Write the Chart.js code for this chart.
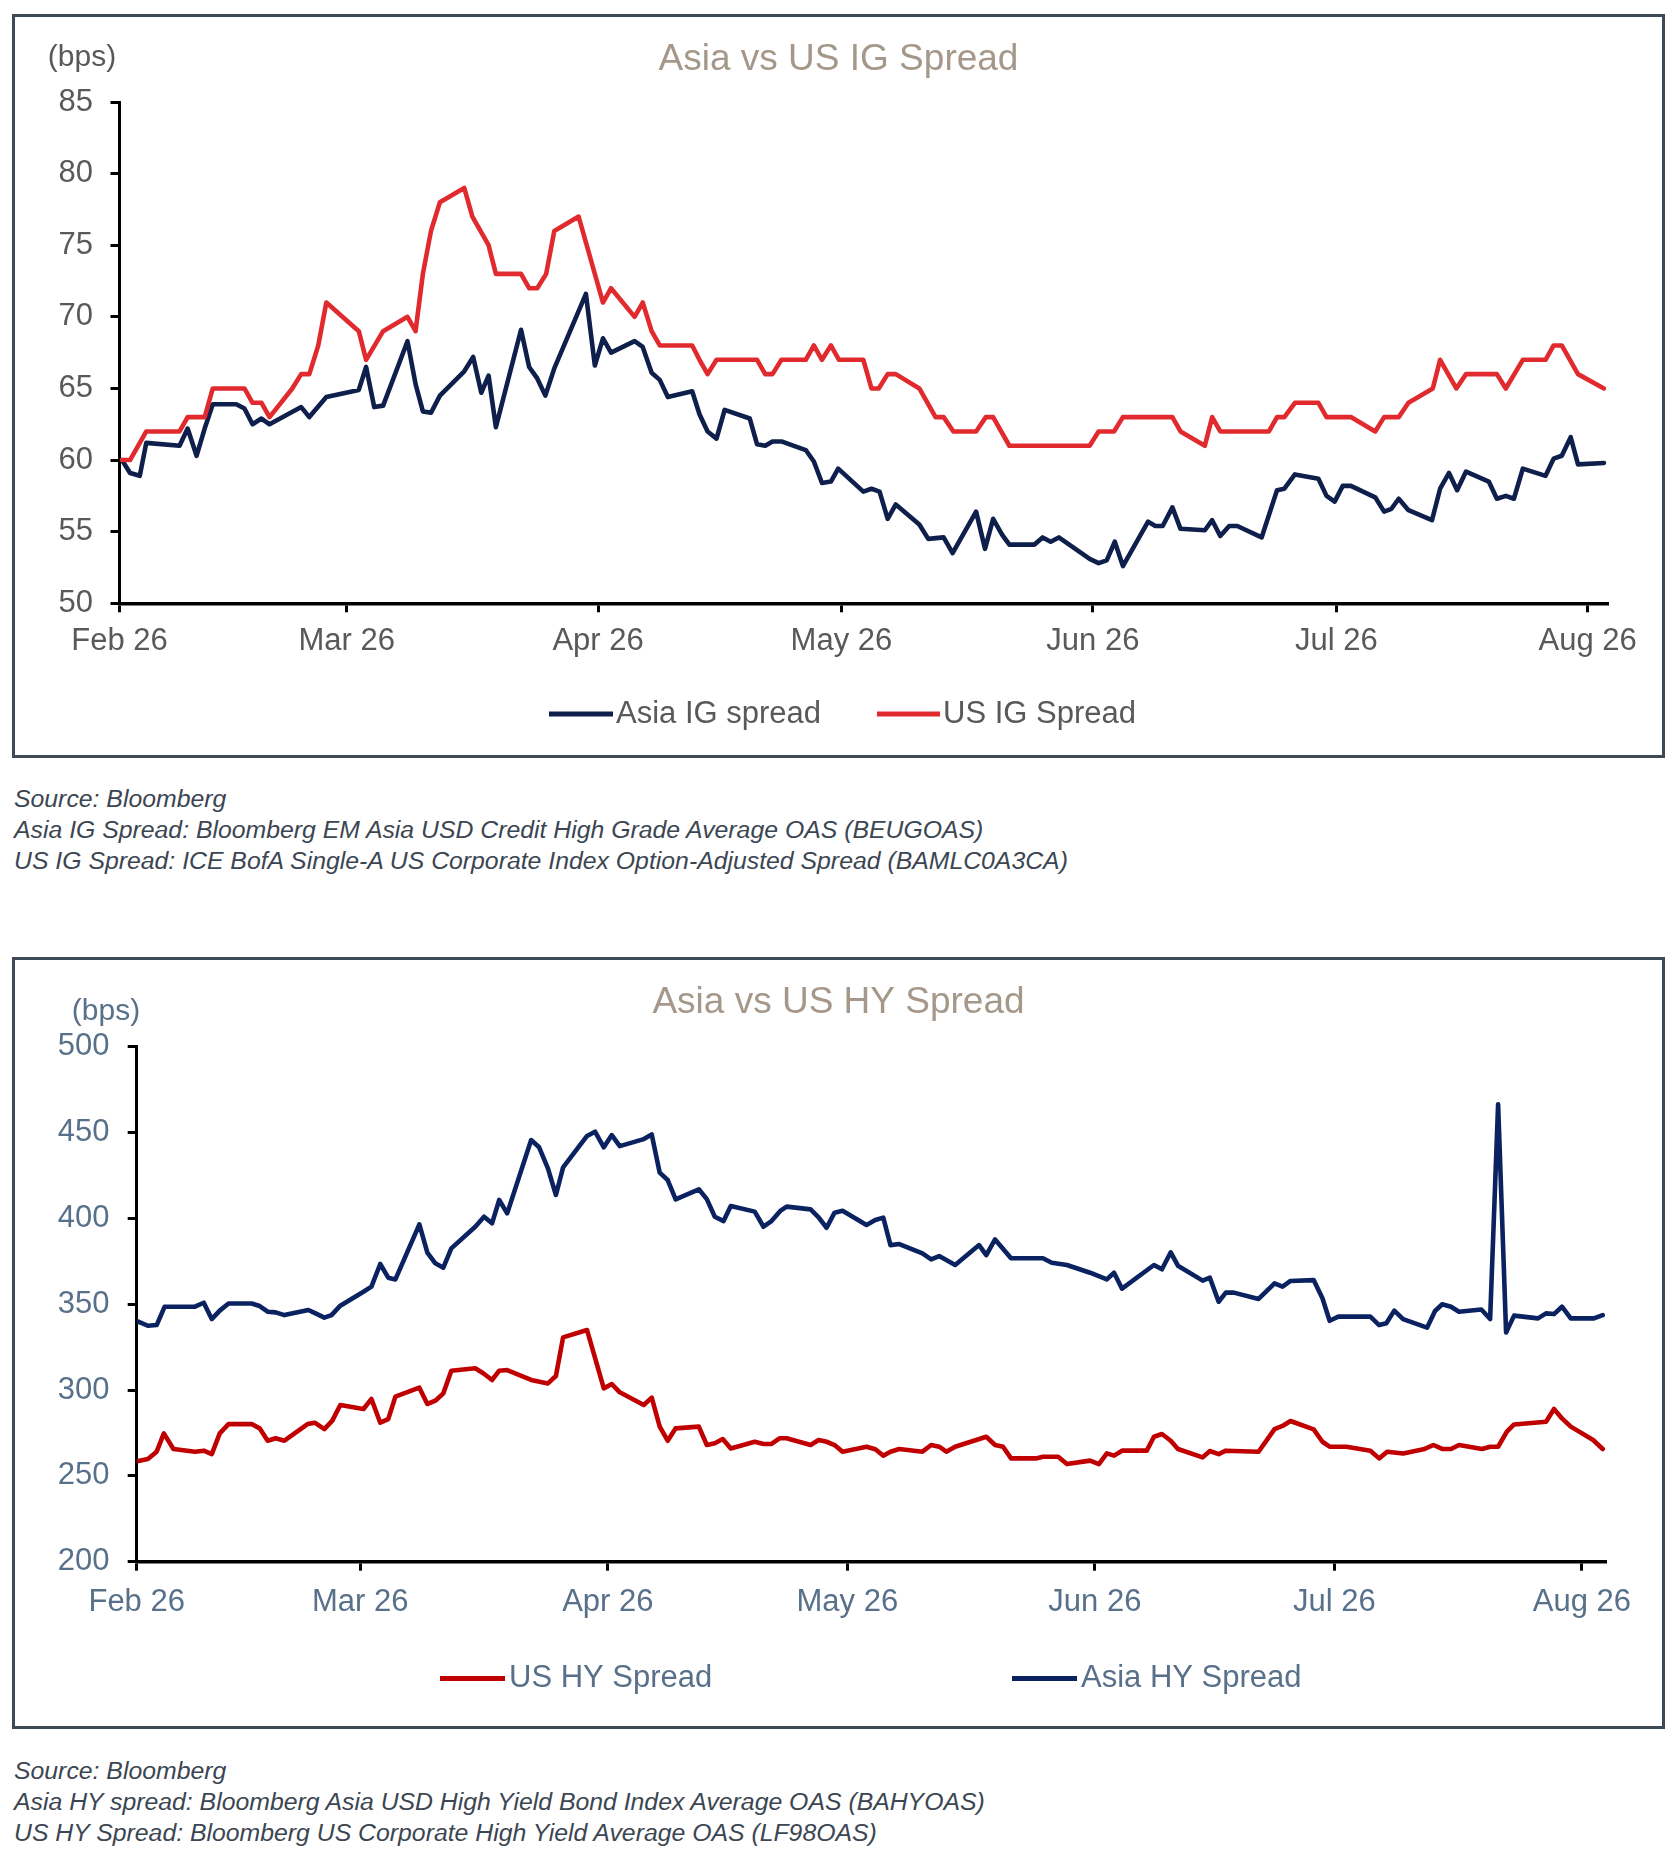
<!DOCTYPE html>
<html>
<head>
<meta charset="utf-8">
<title>Asia vs US Spreads</title>
<script src="https://cdn.jsdelivr.net/npm/chart.js@4.4.1/dist/chart.umd.min.js"></script>
<style>
  body { margin: 0; background: #fff; font-family: "Liberation Sans", Arial, sans-serif; }
  .frame { position: absolute; left: 12px; width: 1647px; border: 3px solid #3e4b56; }
  #frame1 { top: 14px; height: 738px; }
  #frame2 { top: 957px; height: 766px; }
  .src { position: absolute; left: 14px; font-style: italic; font-size: 24.8px; line-height: 31px; color: #3b4652; white-space: nowrap; }
  #src1 { top: 783px; }
  #src2 { top: 1755px; }
</style>
</head>
<body>
<div class="frame" id="frame1"><canvas id="igChart"></canvas></div>
<div class="src" id="src1">Source: Bloomberg<br>Asia IG Spread: Bloomberg EM Asia USD Credit High Grade Average OAS (BEUGOAS)<br>US IG Spread: ICE BofA Single-A US Corporate Index Option-Adjusted Spread (BAMLC0A3CA)</div>
<div class="frame" id="frame2"><canvas id="hyChart"></canvas></div>
<div class="src" id="src2">Source: Bloomberg<br>Asia HY spread: Bloomberg Asia USD High Yield Bond Index Average OAS (BAHYOAS)<br>US HY Spread: Bloomberg US Corporate High Yield Average OAS (LF98OAS)</div>
<script>
// x values are days counted from 1 Feb
const monthDays = [0, 28, 59, 89, 120, 150, 181];
const monthLabels = ["Feb 26", "Mar 26", "Apr 26", "May 26", "Jun 26", "Jul 26", "Aug 26"];

const igAsiaDays = [0.3,1.3,2.5,3.3,7.4,8.4,9.5,10.5,11.5,14.4,15.4,16.4,17.5,18.5,22.4,23.4,25.5,29.5,30.4,31.4,32.5,35.5,36.5,37.4,38.4,39.5,42.5,43.6,44.6,45.5,46.4,49.5,50.5,51.5,52.5,53.6,57.5,58.6,59.6,60.6,63.5,64.5,65.6,66.6,67.6,70.6,71.5,72.5,73.6,74.6,77.7,78.6,79.6,80.5,81.6,84.6,85.6,86.6,87.7,88.6,91.7,92.7,93.7,94.7,95.7,98.6,99.7,101.6,102.7,105.6,106.7,107.7,108.8,109.7,112.8,113.8,114.8,115.8,119.6,120.7,121.7,122.7,123.7,126.8,127.7,128.6,129.8,130.8,133.8,134.7,135.7,136.8,137.8,140.8,142.7,143.6,144.9,147.8,148.8,149.8,150.8,151.8,154.8,155.9,156.8,157.7,158.9,161.8,162.8,163.9,164.9,166.0,168.8,169.8,170.9,171.9,173.0,175.8,176.8,177.8,178.9,179.8,183.0];
const igAsia = [60.0,59.1,58.9,61.2,61.0,62.2,60.3,62.2,63.9,63.9,63.6,62.5,62.9,62.5,63.7,63.0,64.4,64.9,66.5,63.7,63.8,68.3,65.3,63.4,63.3,64.5,66.2,67.2,64.7,65.9,62.3,69.1,66.5,65.7,64.5,66.4,71.6,66.6,68.5,67.5,68.3,67.9,66.1,65.6,64.4,64.8,63.2,62.0,61.5,63.5,62.9,61.1,61.0,61.3,61.3,60.7,59.9,58.4,58.5,59.4,57.8,58.0,57.8,55.9,56.9,55.5,54.5,54.6,53.5,56.4,53.8,55.9,54.8,54.1,54.1,54.6,54.3,54.6,53.1,52.8,53.0,54.3,52.6,55.7,55.4,55.4,56.7,55.2,55.1,55.8,54.7,55.4,55.4,54.6,57.9,58.0,59.0,58.7,57.5,57.1,58.2,58.2,57.4,56.4,56.6,57.3,56.5,55.8,58.0,59.1,57.9,59.2,58.5,57.3,57.5,57.3,59.4,58.9,60.1,60.3,61.6,59.7,59.8];

const igUsDays = [0.3,1.3,3.3,7.4,8.4,10.5,11.5,15.4,16.4,17.5,18.5,21.3,22.4,23.4,24.5,25.5,29.5,30.4,32.5,35.5,36.5,37.4,38.4,39.5,42.5,43.5,45.5,46.4,49.5,50.5,51.5,52.6,53.6,56.6,59.6,60.6,63.5,64.5,65.6,66.6,70.6,71.5,72.5,73.6,78.6,79.6,80.5,81.6,84.6,85.6,86.6,87.7,88.7,91.7,92.7,93.6,94.7,95.7,98.6,100.6,101.6,102.8,105.6,106.8,107.7,109.7,119.6,120.7,122.6,123.7,129.8,130.8,133.8,134.7,135.7,141.7,142.7,143.6,144.9,147.8,148.8,151.8,154.8,155.9,157.7,158.9,161.9,162.8,164.8,166.0,169.8,170.9,173.0,175.8,176.8,177.8,179.8,183.0];
const igUs = [60,60,62,62,63,63,65,65,64,64,63,65,66,66,68,71,69,67,69,70,69,73,76,78,79,77,75,73,73,72,72,73,76,77,71,72,70,71,69,68,68,67,66,67,67,66,66,67,67,68,67,68,67,67,65,65,66,66,65,63,63,62,62,63,63,61,61,62,62,63,63,62,61,63,62,62,63,63,64,64,63,63,62,63,63,64,65,67,65,66,66,65,67,67,68,68,66,65];

const hyAsiaDays = [0.2,1.4,2.5,3.5,7.3,8.4,9.4,10.4,11.5,14.4,15.4,16.4,17.4,18.5,21.5,22.4,23.5,24.4,25.5,28.4,29.4,30.5,31.5,32.4,35.4,36.4,37.4,38.4,39.4,42.4,43.5,44.5,45.4,46.4,49.4,50.4,51.5,52.5,53.4,56.4,57.4,58.5,59.5,60.5,63.4,64.5,65.5,66.5,67.5,70.4,71.4,72.4,73.5,74.4,77.4,78.5,79.5,80.6,81.4,84.4,85.4,86.4,87.4,88.4,91.4,92.5,93.5,94.4,95.5,98.4,99.5,100.5,102.5,105.5,106.4,107.5,109.5,113.5,114.6,116.5,119.4,121.5,122.4,123.4,127.4,128.4,129.5,130.4,133.5,134.4,135.5,136.4,137.4,140.5,142.5,143.5,144.5,147.4,148.5,149.4,150.5,154.5,155.6,156.5,157.5,158.6,161.6,162.6,163.5,164.6,165.6,168.4,169.5,170.5,171.5,172.5,175.5,176.5,177.5,178.5,179.6,182.5,183.6];
const hyAsia = [339.9,337.5,337.9,348.6,348.6,350.9,341.4,346.3,350.5,350.5,349.0,345.7,345.3,343.7,346.7,344.7,342.2,343.7,349.2,357.3,360.3,373.5,365.5,364.5,396.6,380.1,373.9,371.3,382.6,395.2,401.0,397.2,410.8,403.0,445.7,441.5,429.2,413.7,429.8,448.1,450.6,441.5,448.6,442.2,446.1,449.0,426.7,422.4,411.2,417.0,411.3,401.0,398.5,407.3,404.0,395.2,398.5,404.4,406.9,405.3,400.7,394.6,403.4,404.5,396.2,399.1,400.5,384.5,385.1,379.7,376.2,378.1,372.9,384.5,378.7,387.8,376.8,376.8,374.2,372.9,368.4,364.5,368.4,359.1,372.9,370.4,380.3,372.5,363.8,365.5,351.5,356.8,356.8,353.1,362.2,360.3,363.6,364.1,353.5,340.4,342.8,342.8,337.9,338.9,346.3,341.4,336.4,346.1,350.0,348.6,345.7,347.0,341.4,466.5,333.6,343.4,341.8,344.7,344.3,348.6,341.8,341.8,343.7];

const hyUsDays = [0.2,1.4,2.5,3.4,4.6,7.3,8.4,9.4,10.4,11.5,14.4,15.4,16.4,17.4,18.5,21.4,22.3,23.5,24.5,25.5,28.4,29.4,30.5,31.5,32.4,35.4,36.4,37.4,38.4,39.4,42.4,43.4,44.5,45.4,46.4,49.4,51.5,52.5,53.4,56.4,58.5,59.5,60.5,63.5,64.5,65.5,66.5,67.5,70.4,71.4,72.4,73.4,74.4,77.4,78.5,79.5,80.5,81.4,84.4,85.4,86.4,87.4,88.4,91.4,92.5,93.5,94.4,95.5,98.4,99.5,100.5,101.4,102.5,106.4,107.5,108.5,109.5,112.6,113.5,115.4,116.5,119.4,120.5,121.5,122.4,123.4,126.5,127.4,128.4,129.5,130.4,133.5,134.4,135.5,136.4,140.5,142.5,143.5,144.5,147.4,148.5,149.4,151.5,154.5,155.6,156.6,158.6,161.3,162.4,163.5,164.6,165.6,168.5,169.5,170.5,171.6,172.5,176.5,177.5,178.5,179.6,182.4,183.6];
const hyUs = [258.7,259.8,264.1,274.8,265.7,264.1,264.7,262.7,274.8,280.2,280.2,277.7,270.5,271.9,270.5,280.2,281.0,277.3,282.2,291.3,289.0,294.8,281.0,283.1,296.2,301.4,291.9,293.8,298.1,311.3,312.7,309.8,305.9,311.3,311.7,305.9,303.9,308.2,330.7,335.0,301.0,303.5,298.7,291.3,295.6,278.7,270.5,277.7,278.7,268.0,269.0,271.5,266.0,269.9,268.6,268.6,271.9,271.9,268.0,270.9,269.9,268.0,264.1,267.0,265.5,261.8,264.1,265.7,264.1,268.0,267.0,264.1,267.0,272.8,268.0,267.0,260.2,260.2,261.2,261.2,256.9,258.9,256.9,263.1,261.8,264.7,264.7,272.8,274.4,270.5,265.7,260.8,264.5,262.7,264.7,264.1,277.3,279.1,282.0,277.1,269.9,267.0,267.0,264.7,260.2,264.1,263.1,265.7,268.0,265.7,265.7,268.0,265.7,267.0,267.0,275.8,280.0,281.6,289.0,283.5,278.7,270.9,265.7];

function points(days, values) {
    return days.map((d, i) => ({ x: d, y: values[i] }));
}

Chart.defaults.font.family = '"Liberation Sans", Arial, sans-serif';
Chart.defaults.animation = false;

// title, unit label and line-sample legend
const extras = {
    id: 'extras',
    afterDraw(chart, args, opts) {
        const ctx = chart.ctx;
        ctx.save();
        ctx.textBaseline = 'middle';
        ctx.textAlign = 'center';
        ctx.font = '37px "Liberation Sans", Arial, sans-serif';
        ctx.fillStyle = '#a5988a';
        ctx.fillText(opts.title, opts.titleX, opts.titleY);
        ctx.font = '30px "Liberation Sans", Arial, sans-serif';
        ctx.fillStyle = opts.color;
        ctx.fillText('(bps)', opts.unitX, opts.unitY);
        ctx.font = '31px "Liberation Sans", Arial, sans-serif';
        ctx.textAlign = 'left';
        opts.items.forEach(function(it) {
            const ds = chart.data.datasets[it.ds];
            ctx.strokeStyle = ds.borderColor;
            ctx.lineWidth = 5;
            ctx.beginPath();
            ctx.moveTo(it.x0, opts.legendY);
            ctx.lineTo(it.x1, opts.legendY);
            ctx.stroke();
            ctx.fillText(ds.label, it.tx, opts.legendY);
        });
        ctx.restore();
    }
};

function axisX(max, pad, color) {
    return {
        type: 'linear', min: 0, max: max,
        afterBuildTicks: function(scale) { scale.ticks = monthDays.map(v => ({ value: v })); },
        afterFit: function(scale) { scale.height = 60; },
        ticks: {
            autoSkip: false, maxRotation: 0, padding: pad, color: color,
            font: { size: 31 },
            callback: function(v, i) { return monthLabels[i]; }
        },
        grid: { drawOnChartArea: false, tickLength: 9, tickWidth: 3, tickColor: '#000' },
        border: { color: '#000', width: 3.5 }
    };
}

function axisY(min, max, step, width, pad, color) {
    return {
        min: min, max: max,
        afterFit: function(scale) { scale.width = width; },
        ticks: { stepSize: step, padding: pad, color: color, font: { size: 31 } },
        grid: { drawOnChartArea: false, tickLength: 9, tickWidth: 3, tickColor: '#000' },
        border: { color: '#000', width: 3 }
    };
}

function line(label, days, values, color, order) {
    return {
        label: label, data: points(days, values), borderColor: color, backgroundColor: color,
        borderWidth: 4.6, pointRadius: 0, tension: 0, order: order,
        borderJoinStyle: 'round', borderCapStyle: 'round'
    };
}

const igChart = new Chart(document.getElementById('igChart'), {
    type: 'line',
    data: {
        datasets: [
            line('Asia IG spread', igAsiaDays, igAsia, '#0f1f4b', 1),
            line('US IG Spread', igUsDays, igUs, '#e12a2e', 0)
        ]
    },
    options: {
        responsive: true,
        maintainAspectRatio: false,
        layout: { padding: { left: 10, right: 54, top: 85, bottom: 91.7 } },
        scales: {
            x: axisX(183.5, 11, '#595959'),
            y: axisY(50, 85, 5, 94.5, 17.5, '#595959')
        },
        plugins: {
            legend: { display: false },
            tooltip: { enabled: false },
            extras: {
                title: 'Asia vs US IG Spread', titleX: 823.5, titleY: 43,
                color: '#595959', unitX: 67, unitY: 41, legendY: 697,
                items: [{ ds: 0, x0: 534, x1: 598, tx: 601 }, { ds: 1, x0: 862, x1: 925, tx: 928 }]
            }
        }
    },
    plugins: [extras]
});

const hyChart = new Chart(document.getElementById('hyChart'), {
    type: 'line',
    data: {
        datasets: [
            line('US HY Spread', hyUsDays, hyUs, '#c00000', 1),
            line('Asia HY Spread', hyAsiaDays, hyAsia, '#0b2261', 0)
        ]
    },
    options: {
        responsive: true,
        maintainAspectRatio: false,
        layout: { padding: { left: 10, right: 55.3, top: 86.9, bottom: 104.3 } },
        scales: {
            x: axisX(184.1, 13.5, '#58708a'),
            y: axisY(200, 500, 50, 111.7, 18.3, '#58708a')
        },
        plugins: {
            legend: { display: false },
            tooltip: { enabled: false },
            extras: {
                title: 'Asia vs US HY Spread', titleX: 823.5, titleY: 43,
                color: '#58708a', unitX: 91, unitY: 52, legendY: 718.5,
                items: [{ ds: 0, x0: 425, x1: 490, tx: 494 }, { ds: 1, x0: 997, x1: 1062, tx: 1066 }]
            }
        }
    },
    plugins: [extras]
});
</script>
</body>
</html>
